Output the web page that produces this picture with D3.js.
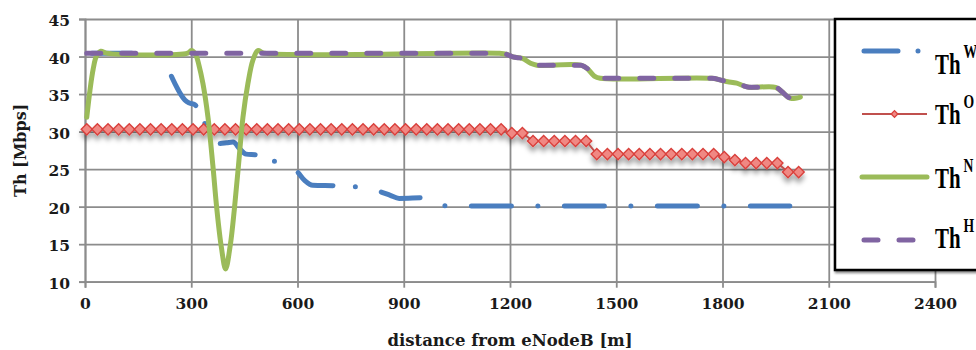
<!DOCTYPE html>
<html><head><meta charset="utf-8">
<script src="https://cdn.jsdelivr.net/npm/d3@7"></script>
<style>html,body{margin:0;padding:0;background:#fff;}svg{display:block;}</style>
</head><body>
<svg id="chart" width="976" height="350"></svg>
<script>
// ---------- data ----------
const xTicks = [0, 300, 600, 900, 1200, 1500, 1800, 2100, 2400];
const yTicks = [10, 15, 20, 25, 30, 35, 40, 45];
const xTitle = "distance from eNodeB [m]";
const yTitle = "Th [Mbps]";

// Th^W (blue, long dash-dot)
const wDist = [5,200,212,228,240,255,270,282,295,310,325,340,360,376,400,418,437,455,484,515,545,575,596,620,643,700,740,775,810,836,862,887,962,990,1019,1990];
const wVal  = [40.45,40.45,40.2,39.3,37.8,36.3,35.0,34.2,33.8,33.6,32.4,30.9,29.2,28.4,28.5,28.6,27.7,27.0,26.9,26.6,25.8,25.2,24.8,23.5,22.85,22.8,22.75,22.6,22.3,21.95,21.5,21.1,21.2,20.6,20.1,20.1];

// Th^O (red with diamond markers)
const oDist = [5,35,65,95,125,155,185,215,245,275,305,335,365,395,425,455,485,515,545,575,605,635,665,695,725,755,785,815,845,875,905,935,965,995,1025,1055,1085,1115,1145,1175,1205,1235,1265,1295,1325,1355,1385,1415,1445,1475,1505,1535,1565,1595,1625,1655,1685,1715,1745,1775,1805,1835,1865,1895,1925,1955,1985,2015];
const oVal  = [30.3,30.3,30.3,30.3,30.3,30.3,30.3,30.3,30.3,30.3,30.3,30.3,30.3,30.3,30.3,30.3,30.3,30.3,30.3,30.3,30.3,30.3,30.3,30.3,30.3,30.3,30.3,30.3,30.3,30.3,30.3,30.3,30.3,30.3,30.3,30.3,30.3,30.3,30.3,30.3,29.8,29.8,28.75,28.75,28.75,28.75,28.75,28.75,27.0,27.0,27.0,27.0,27.0,27.0,27.0,27.0,27.0,27.0,27.0,27.0,26.6,26.2,25.8,25.8,25.8,25.8,24.6,24.6];

// Th^N (green solid)
const nDist = [5,14,23,32,45,60,290,300,312,322,333,347,361,372,385,397,410,422,433,446,460,474,488,505,1170,1190,1208,1235,1258,1276,1400,1418,1438,1455,1770,1800,1815,1840,1860,1875,1950,1968,1985,1995,2020];
const nVal  = [31.9,35.5,38.3,40.0,40.7,40.45,40.45,40.8,40.3,38.8,36.4,32.0,25.5,19.8,14.6,11.7,14.8,19.8,25.3,31.9,36.4,39.5,40.8,40.45,40.45,40.3,39.95,39.75,39.1,38.85,38.85,38.4,37.4,37.1,37.1,36.8,36.65,36.45,36.1,35.9,35.9,35.3,34.6,34.4,34.6];

// Th^H (purple dashed)
const hDist = [5,505,1170,1190,1208,1235,1258,1276,1400,1418,1438,1455,1770,1800,1815,1840,1860,1875,1950,1968,1985,1995,2020];
const hVal  = [40.45,40.45,40.45,40.3,39.95,39.75,39.1,38.85,38.85,38.4,37.4,37.1,37.1,36.8,36.65,36.45,36.1,35.9,35.9,35.3,34.6,34.4,34.6];

const legendSup = ["W", "O", "N", "H"];

// ---------- layout ----------
const svg = d3.select("#chart");
const L = 85, R = 935, T = 19, B = 281.7;
const x = d3.scaleLinear().domain([0, 2400]).range([L, R]);
const y = d3.scaleLinear().domain([10, 45]).range([B, T]);
const gridCol = "#8c8c8c";
const C = {w: "#4a7ebf", o: "#c0504d", n: "#9bbb59", h: "#8064a2"};
const labelFont = "'DejaVu Serif', serif";

const defs = svg.append("defs");
const sh = defs.append("filter").attr("id", "shadow").attr("x", "-5%").attr("y", "-50%").attr("width", "110%").attr("height", "250%");
sh.append("feDropShadow").attr("dx", 0).attr("dy", 5).attr("stdDeviation", 2.5)
  .attr("flood-color", "#000").attr("flood-opacity", 0.35);
const lsh = defs.append("filter").attr("id", "lshadow").attr("x", "-10%").attr("y", "-10%").attr("width", "130%").attr("height", "130%");
lsh.append("feDropShadow").attr("dx", 1).attr("dy", 2).attr("stdDeviation", 1)
  .attr("flood-color", "#000").attr("flood-opacity", 0.45);

// grid
const gy = svg.append("g").attr("transform", `translate(${L},0)`)
  .call(d3.axisLeft(y).tickValues(yTicks).tickSizeInner(-(R - L)).tickSizeOuter(0).tickFormat(""));
gy.select(".domain").remove();
gy.selectAll("line").attr("stroke", gridCol).attr("stroke-width", 1.8);
const gx = svg.append("g").attr("transform", `translate(0,${B})`)
  .call(d3.axisBottom(x).tickValues(xTicks).tickSizeInner(-(B - T)).tickSizeOuter(0).tickFormat(""));
gx.select(".domain").remove();
gx.selectAll("line").attr("stroke", gridCol).attr("stroke-width", 1.8);

// axes with labels
const ay = svg.append("g").attr("transform", `translate(${L},0)`)
  .call(d3.axisLeft(y).tickValues(yTicks).tickSize(6).tickPadding(9).tickFormat(d3.format("d")));
ay.select(".domain").attr("stroke", gridCol).attr("stroke-width", 1.8);
ay.selectAll("line").attr("stroke", gridCol).attr("stroke-width", 1.8);
ay.selectAll("text").attr("font-family", labelFont).attr("font-weight", "bold")
  .attr("font-size", 15.5).attr("fill", "#1a1a1a").attr("dy", "0.42em");

const ax = svg.append("g").attr("transform", `translate(0,${B})`)
  .call(d3.axisBottom(x).tickValues(xTicks).tickSize(6).tickPadding(10).tickFormat(d3.format("d")));
ax.select(".domain").attr("stroke", gridCol).attr("stroke-width", 1.8);
ax.selectAll("line").attr("stroke", gridCol).attr("stroke-width", 1.8);
ax.selectAll("text").attr("font-family", labelFont).attr("font-weight", "bold")
  .attr("font-size", 15.5).attr("fill", "#1a1a1a");

svg.append("text").attr("x", (L + R) / 2).attr("y", 346).attr("text-anchor", "middle")
  .attr("font-family", labelFont).attr("font-weight", "bold").attr("font-size", 16.5)
  .attr("fill", "#1a1a1a").text(xTitle);
svg.append("text").attr("transform", `translate(26,${(T + B) / 2}) rotate(-90)`).attr("text-anchor", "middle")
  .attr("font-family", labelFont).attr("font-weight", "bold").attr("font-size", 16)
  .attr("fill", "#1a1a1a").text(yTitle);

// ---------- series ----------
const zip = (a, b) => a.map((d, i) => [d, b[i]]);
const line = d3.line().x(d => x(d[0])).y(d => y(d[1])).curve(d3.curveMonotoneX);

// blue: the series is stroked in a few runs so the dash-dot rhythm lines up with the original
const dashW = [40, 26.5, 0, 26.5];
const period = d3.sum(dashW);
function phase(sel, tx) {
  const node = sel.node(), total = node.getTotalLength();
  let lo = 0, hi = total;
  for (let i = 0; i < 40; i++) { const m = (lo + hi) / 2; if (node.getPointAtLength(m).x < tx) lo = m; else hi = m; }
  sel.attr("stroke-dashoffset", (period - (lo % period)) % period);
}
const wData = zip(wDist, wVal);
const runs = [[5, 325, 241, 1], [325, 515, 376, 2], [515, 740, 596, 2], [740, 1990, 1085, 2]];
runs.forEach(([a, b, anchor, pad]) => {
  const seg = wData.filter(d => d[0] >= a && d[0] <= b);
  const p = svg.append("path").datum(seg).attr("d", line)
    .attr("fill", "none").attr("stroke", C.w).attr("stroke-width", 5)
    .attr("stroke-linecap", "round").attr("stroke-linejoin", "round")
    .attr("stroke-dasharray", dashW.join(","));
  phase(p, x(anchor) + pad);
});

// red
const og = svg.append("g").attr("filter", "url(#shadow)");
const oData = zip(oDist, oVal);
og.append("path").datum(oData).attr("d", d3.line().x(d => x(d[0])).y(d => y(d[1])))
  .attr("fill", "none").attr("stroke", C.o).attr("stroke-width", 2);
const diamond = d3.symbol(d3.symbolSquare, 62);
og.selectAll("path.m").data(oData).join("path").attr("class", "m")
  .attr("d", diamond).attr("transform", d => `translate(${x(d[0])},${y(d[1])}) rotate(45)`)
  .attr("fill", "#f08883").attr("stroke", "#d9403c").attr("stroke-width", 1.4);

// green
svg.append("path").datum(zip(nDist, nVal)).attr("d", line.curve(d3.curveCatmullRom.alpha(0.5)))
  .attr("fill", "none").attr("stroke", C.n).attr("stroke-width", 5)
  .attr("stroke-linecap", "round").attr("stroke-linejoin", "round");

// purple
svg.append("path").datum(zip(hDist, hVal)).attr("d", line.curve(d3.curveMonotoneX))
  .attr("fill", "none").attr("stroke", C.h).attr("stroke-width", 5)
  .attr("stroke-linecap", "round").attr("stroke-dasharray", "14,21");

// ---------- legend ----------
const lg = svg.append("g");
lg.append("rect").attr("x", 835).attr("y", 19).attr("width", 200).attr("height", 251)
  .attr("fill", "#fff").attr("stroke", "#000").attr("stroke-width", 2.5).attr("filter", "url(#lshadow)");
const ly = d3.scalePoint().domain(legendSup).range([51, 240]);
const x0 = 862, x1 = 927;
const textOff = [23, 10, 11, 8];
legendSup.forEach((k, i) => {
  const yy = ly(k);
  if (i === 0) {
    lg.append("line").attr("x1", x0).attr("x2", x1).attr("y1", yy).attr("y2", yy)
      .attr("stroke", C.w).attr("stroke-width", 5).attr("stroke-linecap", "round")
      .attr("stroke-dasharray", "34,20,0,100").attr("transform", "translate(2,0)");
  } else if (i === 1) {
    lg.append("line").attr("x1", x0).attr("x2", x1).attr("y1", yy).attr("y2", yy)
      .attr("stroke", C.o).attr("stroke-width", 2);
    lg.append("path").attr("d", d3.symbol(d3.symbolSquare, 22))
      .attr("transform", `translate(${(x0 + x1) / 2},${yy}) rotate(45)`)
      .attr("fill", "#f08883").attr("stroke", "#d9403c").attr("stroke-width", 1.3);
  } else if (i === 2) {
    lg.append("line").attr("x1", x0).attr("x2", x1).attr("y1", yy).attr("y2", yy)
      .attr("stroke", C.n).attr("stroke-width", 5).attr("stroke-linecap", "round");
  } else {
    lg.append("line").attr("x1", x0 + 2).attr("x2", x1).attr("y1", yy).attr("y2", yy)
      .attr("stroke", C.h).attr("stroke-width", 5).attr("stroke-linecap", "round")
      .attr("stroke-dasharray", "14,21");
  }
  const t = lg.append("text").attr("transform", `translate(935,${yy + textOff[i]}) scale(0.72,1)`)
    .attr("font-family", "'Liberation Serif', serif").attr("font-weight", "bold")
    .attr("font-size", 29).attr("fill", "#000");
  t.append("tspan").text("Th");
  t.append("tspan").attr("font-size", 19).attr("dy", -16).attr("dx", 4).text(k);
});
</script>
</body></html>
